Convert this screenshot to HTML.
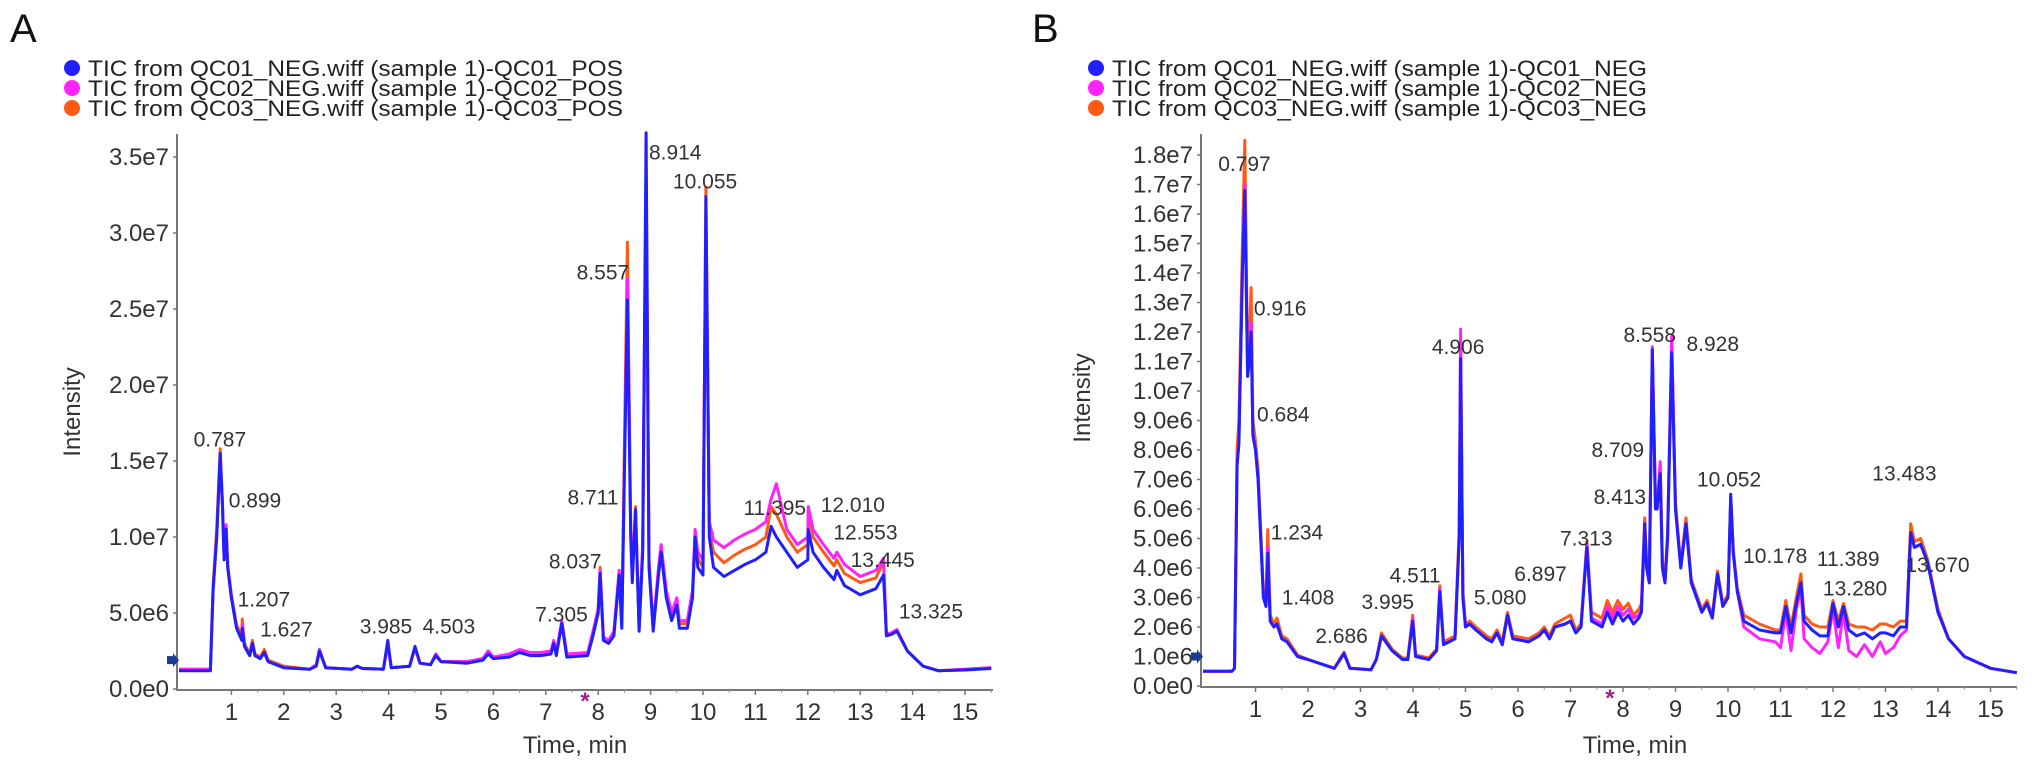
<!DOCTYPE html>
<html><head><meta charset="utf-8"><style>
body{margin:0;background:#fff}
svg{display:block;font-family:"Liberation Sans",Arial,sans-serif}
</style></head><body>
<svg id="chart" width="2032" height="762" viewBox="0 0 2032 762" xmlns="http://www.w3.org/2000/svg"></svg>
<script>
// ---------- Panel A data (time min, intensity in 1e6) ----------
const timesA = [0,0.6,0.65,0.72,0.787,0.83,0.86,0.899,0.93,1.0,1.1,1.2,1.207,1.25,1.35,1.4,1.45,1.55,1.627,1.7,2.0,2.5,2.62,2.68,2.8,3.3,3.4,3.5,3.9,3.985,4.05,4.4,4.503,4.6,4.8,4.9,5.0,5.5,5.8,5.9,6.0,6.3,6.5,6.7,6.9,7.1,7.15,7.2,7.305,7.4,7.8,7.9,8.0,8.037,8.1,8.2,8.3,8.4,8.45,8.557,8.62,8.65,8.711,8.78,8.85,8.914,8.97,9.05,9.15,9.2,9.3,9.4,9.5,9.55,9.7,9.8,9.85,9.9,10.0,10.055,10.12,10.2,10.4,10.6,10.8,11.0,11.2,11.3,11.4,11.6,11.8,12.0,12.01,12.1,12.3,12.5,12.553,12.7,13.0,13.3,13.445,13.5,13.6,13.7,13.9,14.2,14.5,15.0,15.5];
const blueA = [1.2,1.2,6.5,10,15.5,12,8.5,10.5,8,6,4,3.2,4,2.8,2.2,3,2.2,2,2.4,1.8,1.4,1.3,1.5,2.5,1.4,1.3,1.5,1.35,1.3,3.2,1.4,1.5,2.8,1.7,1.6,2.2,1.8,1.7,1.9,2.3,2.0,2.1,2.4,2.2,2.2,2.3,3.0,2.2,4.3,2.1,2.2,3.5,5,7.6,3.2,3,3.5,7.5,4,25.6,10,7,11.8,3.8,9,36.6,8,3.8,7.5,9,6,4.5,5.5,4,4,6,10,8,7.5,32.4,10,8,7.4,7.8,8.2,8.5,9,10.7,10,9,8,8.5,10.5,9,8,7.2,7.8,6.8,6.2,6.6,7.5,3.5,3.6,3.8,2.5,1.5,1.2,1.25,1.35];
const magentaA = [1.3,1.3,6.5,10,15.2,12,8.5,10.8,8,6,4,3.2,4.2,2.8,2.2,3,2.2,2,2.4,1.8,1.4,1.3,1.6,2.6,1.4,1.3,1.5,1.35,1.3,3.0,1.4,1.5,2.7,1.7,1.6,2.3,1.8,1.8,2.0,2.5,2.1,2.3,2.6,2.4,2.4,2.5,3.2,2.4,4.5,2.3,2.4,3.8,5.2,7.8,3.4,3.2,3.8,7.8,4.2,27,10.5,7.5,11.8,4,9.5,34,8.5,4,8,9.5,6.5,5,6,4.5,4.5,6.5,10.5,9,8.5,31,11,9.8,9.3,9.8,10.2,10.5,11,12.5,13.5,10.5,9.5,10,12,10.5,9.5,8.6,9,8.2,7.4,7.8,8.6,3.6,3.7,3.9,2.5,1.5,1.2,1.3,1.4];
const orangeA = [1.3,1.3,6.8,10.5,15.8,12.2,8.8,10.6,8.2,6.2,4.2,3.5,4.6,3.0,2.3,3.2,2.3,2.1,2.6,1.9,1.5,1.3,1.6,2.6,1.4,1.3,1.5,1.35,1.3,3.0,1.4,1.5,2.7,1.7,1.6,2.3,1.8,1.8,2.0,2.5,2.1,2.2,2.5,2.3,2.3,2.4,3.1,2.3,4.4,2.2,2.3,3.7,5.3,8.0,3.4,3.2,3.7,7.8,4.2,29.4,10.5,7.3,12.0,4,9.3,33,8.3,4,7.8,9.3,6.3,4.8,5.8,4.3,4.3,6.3,10.3,8.6,8,33,10.5,9,8.3,8.8,9.2,9.5,10,12,11.5,10,9,9.5,11.8,10,9,8.1,8.5,7.6,7.0,7.3,8.4,3.6,3.7,3.9,2.5,1.5,1.2,1.3,1.4];
const tickLabelsYA = ["0.0e0","5.0e6","1.0e7","1.5e7","2.0e7","2.5e7","3.0e7","3.5e7"];
const tickValuesYA = [0,5,10,15,20,25,30,35];
const peakLabelsA = ["0.787","0.899","1.207","1.627","3.985","4.503","7.305","8.037","8.711","8.557","8.914","10.055","11.395","12.010","12.553","13.445","13.325"];
const peakLabelTA = [0.78,1.45,1.62,2.05,3.95,5.15,7.3,7.56,7.9,8.09,9.47,10.04,11.37,12.86,13.1,13.43,14.35];
const peakLabelVA = [16.4,12.4,5.9,3.9,4.1,4.1,4.9,8.4,12.6,27.4,35.3,33.4,11.9,12.1,10.3,8.5,5.1];

// ---------- Panel B data ----------
const timesB = [0,0.55,0.6,0.65,0.684,0.75,0.797,0.85,0.88,0.916,0.95,1.0,1.05,1.15,1.2,1.234,1.28,1.35,1.408,1.5,1.6,1.8,2.0,2.5,2.686,2.8,3.2,3.3,3.4,3.6,3.8,3.9,3.995,4.05,4.3,4.45,4.511,4.58,4.8,4.88,4.906,4.95,5.0,5.08,5.2,5.4,5.5,5.6,5.7,5.8,5.9,6.2,6.4,6.5,6.6,6.7,6.897,7.0,7.1,7.2,7.313,7.4,7.6,7.7,7.8,7.9,8.0,8.1,8.2,8.3,8.35,8.413,8.45,8.5,8.558,8.62,8.65,8.709,8.75,8.8,8.85,8.928,9.0,9.1,9.2,9.3,9.5,9.6,9.7,9.8,9.9,10.0,10.052,10.1,10.178,10.3,10.6,10.9,11.0,11.1,11.2,11.3,11.389,11.45,11.6,11.75,11.9,12.0,12.1,12.2,12.3,12.45,12.6,12.75,12.9,13.0,13.15,13.28,13.4,13.48,13.55,13.67,13.8,14.0,14.2,14.5,15.0,15.5];
const blueB = [0.5,0.5,0.6,7.5,8.2,14,16.8,10.5,11,12,8.5,8,7,3,2.7,4.5,2.2,2,2.1,1.6,1.5,1.0,0.9,0.6,1.1,0.6,0.55,0.9,1.7,1.2,0.9,0.9,2.2,1.0,0.9,1.2,3.2,1.4,1.6,5,11.1,3,2.0,2.1,1.9,1.6,1.5,1.8,1.4,2.4,1.6,1.5,1.7,1.9,1.6,2.0,2.1,2.2,1.8,2.0,4.7,2.2,2.0,2.5,2.1,2.5,2.2,2.4,2.1,2.3,2.5,5.5,4,3.5,11.4,6,6,7.2,4,3.5,5,11.3,6,4,5.5,3.5,2.5,2.8,2.3,3.8,2.7,3,6.5,4.5,3.2,2.2,1.9,1.8,1.8,2.7,1.8,2.8,3.5,2.2,1.9,1.7,1.7,2.8,2.0,2.7,1.9,1.7,1.8,1.6,1.8,1.8,1.7,2.0,2.0,5.2,4.7,4.8,4.2,2.5,1.6,1.0,0.6,0.45];
const magentaB = [0.5,0.5,0.6,7.5,8.3,14.2,17.0,10.5,11,12.3,8.5,8,7,3,2.7,4.7,2.2,2,2.1,1.6,1.5,1.0,0.9,0.6,1.1,0.6,0.55,0.9,1.7,1.2,0.9,0.9,2.3,1.0,0.9,1.2,3.3,1.4,1.6,5,12.1,3,2.0,2.1,1.9,1.6,1.5,1.8,1.4,2.4,1.6,1.5,1.7,1.9,1.6,2.0,2.1,2.2,1.8,2.0,4.8,2.3,2.1,2.7,2.3,2.7,2.4,2.6,2.3,2.4,2.6,5.5,4,3.5,11.5,6,6,7.6,4,3.5,5,11.9,6,4,5.5,3.5,2.5,2.8,2.3,3.8,2.7,3,6.3,4.5,3.2,2.0,1.6,1.5,1.3,2.5,1.2,2.6,3.3,1.6,1.3,1.1,1.5,2.6,1.3,2.5,1.2,1.0,1.4,1.0,1.5,1.1,1.3,1.7,1.9,5.2,4.7,4.8,4.2,2.5,1.6,1.0,0.6,0.45];
const orangeB = [0.5,0.5,0.6,8.0,9.0,15,18.5,11,11.5,13.5,9,8.3,7.3,3.2,3.0,5.3,2.4,2.1,2.3,1.7,1.6,1.05,0.9,0.6,1.15,0.6,0.55,0.9,1.8,1.25,0.95,0.95,2.4,1.05,0.95,1.25,3.4,1.5,1.7,5.3,11.6,3.2,2.1,2.2,2.0,1.7,1.6,1.9,1.5,2.5,1.7,1.6,1.8,2.0,1.7,2.1,2.3,2.4,1.9,2.1,4.9,2.5,2.3,2.9,2.5,2.9,2.6,2.8,2.4,2.6,2.8,5.7,4.2,3.7,11.3,6.3,6.2,7.5,4.2,3.7,5.2,11.6,6.2,4.1,5.7,3.6,2.6,2.9,2.4,3.9,2.8,3.1,6.4,4.6,3.3,2.4,2.1,1.9,1.9,2.9,2.0,3.0,3.8,2.4,2.1,2.0,2.0,2.9,2.2,2.8,2.1,2.0,2.0,1.9,2.1,2.1,2.0,2.2,2.2,5.5,4.9,5.0,4.3,2.6,1.6,1.0,0.6,0.45];
const tickLabelsYB = ["0.0e0","1.0e6","2.0e6","3.0e6","4.0e6","5.0e6","6.0e6","7.0e6","8.0e6","9.0e6","1.0e7","1.1e7","1.2e7","1.3e7","1.4e7","1.5e7","1.6e7","1.7e7","1.8e7"];
const tickValuesYB = [0,1,2,3,4,5,6,7,8,9,10,11,12,13,14,15,16,17,18];
const peakLabelsB = ["0.797","0.916","0.684","1.234","1.408","2.686","3.995","4.511","4.906","5.080","6.897","7.313","8.709","8.413","8.558","8.928","10.052","10.178","11.389","13.280","13.483","13.670"];
const peakLabelTB = [0.79,1.47,1.53,1.79,2.0,2.64,3.52,4.04,4.86,5.66,6.43,7.3,7.9,7.94,8.51,9.71,10.02,10.9,12.29,12.42,13.36,13.99];
const peakLabelVB = [17.7,12.8,9.2,5.2,3.0,1.7,2.85,3.75,11.5,3.0,3.8,5.0,8.0,6.4,11.9,11.6,7.0,4.4,4.3,3.3,7.2,4.1];

const tickLabelsX = ["1","2","3","4","5","6","7","8","9","10","11","12","13","14","15"];
const tickValuesX = [1,2,3,4,5,6,7,8,9,10,11,12,13,14,15];
const legendA = ["TIC from QC01_NEG.wiff (sample 1)-QC01_POS","TIC from QC02_NEG.wiff (sample 1)-QC02_POS","TIC from QC03_NEG.wiff (sample 1)-QC03_POS"];
const legendB = ["TIC from QC01_NEG.wiff (sample 1)-QC01_NEG","TIC from QC02_NEG.wiff (sample 1)-QC02_NEG","TIC from QC03_NEG.wiff (sample 1)-QC03_NEG"];

const NS = "http://www.w3.org/2000/svg";
const svg = document.getElementById('chart');
const COL = {blue:"#2020ff", magenta:"#ff22ff", orange:"#ff5a14"};

function mk(tag, attrs, parent){
  const e = document.createElementNS(NS, tag);
  for (const k in attrs) e.setAttribute(k, attrs[k]);
  (parent||svg).appendChild(e);
  return e;
}

function panel(cfg){
  const g = mk('g', {});
  
  
  const xs = t => cfg.x0 + t * cfg.pxMin;
  const ys = v => cfg.y0 - v * cfg.pxUnit;

  const letter = mk('text', {x: cfg.letterX, y: 42, 'font-size': 40, fill: '#111'}, g);
  letter.textContent = cfg.letter;
  
  

  const lcol = [COL.blue, COL.magenta, COL.orange];
  cfg.legend.forEach((s, i) => {
    const lg = mk('g', {}, g);
    
    
    const cy = 68 + i * 20;
    mk('circle', {cx: cfg.legX, cy: cy, r: 8, fill: lcol[i]}, lg);
    const t = mk('text', {x: cfg.legX + 16, y: cy + 8, 'font-size': 22, fill: '#222', textLength: cfg.legW, lengthAdjust: 'spacingAndGlyphs'}, lg);
    t.textContent = s;
  });

  const ax = mk('path', {d: `M${cfg.x0 - 2} ${cfg.top} V${cfg.y0 + 1} H${cfg.right}`, stroke: '#777', 'stroke-width': 2, fill: 'none'}, g);
  
  

  cfg.yVals.forEach((v, i) => {
    const y = ys(v);
    mk('line', {x1: cfg.x0 - 6, x2: cfg.x0 - 2, y1: y, y2: y, stroke: '#777', 'stroke-width': 1.5}, g);
    const t = mk('text', {x: cfg.x0 - 10, y: y + 8, 'font-size': 24, fill: '#333', 'text-anchor': 'end'}, g);
    t.textContent = cfg.yLabels[i];
    
    
  });
  tickValuesX.forEach((v, i) => {
    const x = xs(v);
    mk('line', {x1: x, x2: x, y1: cfg.y0 + 1, y2: cfg.y0 + 6, stroke: '#777', 'stroke-width': 1.5}, g);
    const hx = xs(v + 0.5);
    mk('line', {x1: hx, x2: hx, y1: cfg.y0 + 1, y2: cfg.y0 + 4, stroke: '#999', 'stroke-width': 1}, g);
    const t = mk('text', {x: x, y: cfg.y0 + 31, 'font-size': 24, fill: '#333', 'text-anchor': 'middle'}, g);
    t.textContent = tickLabelsX[i];
    
    
  });
  const xt = mk('text', {x: cfg.xTitleX, y: 753, 'font-size': 24, fill: '#333', 'text-anchor': 'middle'}, g);
  xt.textContent = 'Time, min';
  
  
  const yt = mk('text', {x: 0, y: 0, 'font-size': 24, fill: '#333', 'text-anchor': 'middle', transform: `translate(${cfg.yTitleX},${cfg.yTitleY}) rotate(-90)`}, g);
  yt.textContent = 'Intensity';
  
  

  const series = [['orange', cfg.orange], ['magenta', cfg.magenta], ['blue', cfg.blue]];
  series.forEach(([c, vals]) => {
    const d = cfg.times.map((t, i) => (i ? 'L' : 'M') + xs(t).toFixed(1) + ' ' + ys(vals[i]).toFixed(1)).join(' ');
    const p = mk('path', {d: d, stroke: COL[c], 'stroke-width': 3, fill: 'none', 'stroke-linejoin': 'round'}, g);
    
    
  });

  cfg.peakLabels.forEach((s, i) => {
    const t = mk('text', {x: xs(cfg.peakT[i]), y: ys(cfg.peakV[i]) + 7, 'font-size': 21, fill: '#333', 'text-anchor': 'middle'}, g);
    t.textContent = s;
    
    
  });

  const ar = mk('path', {d: `M${cfg.x0 - 12} ${ys(cfg.arrowV) - 4} h6 v-3 l6 7 l-6 7 v-3 h-6 z`, fill: '#1a3a9a'}, g);
  
  
  const st = mk('text', {x: xs(7.75), y: cfg.y0 + 20, 'font-size': 24, fill: '#a02090', 'text-anchor': 'middle', 'font-weight': 'bold'}, g);
  st.textContent = '*';
  
  
}

panel({name: 'panel-a', letter: 'A', letterX: 10, legX: 72, legW: 535, legend: legendA,
  x0: 179, pxMin: 52.4, y0: 689, pxUnit: 15.2, top: 134, right: 993,
  yVals: tickValuesYA, yLabels: tickLabelsYA, xTitleX: 575, yTitleX: 80, yTitleY: 412,
  times: timesA, blue: blueA, magenta: magentaA, orange: orangeA,
  peakLabels: peakLabelsA, peakT: peakLabelTA, peakV: peakLabelVA, arrowV: 1.9});
panel({name: 'panel-b', letter: 'B', letterX: 1032, legX: 1096, legW: 535, legend: legendB,
  x0: 1203, pxMin: 52.5, y0: 686, pxUnit: 29.5, top: 134, right: 2017,
  yVals: tickValuesYB, yLabels: tickLabelsYB, xTitleX: 1635, yTitleX: 1090, yTitleY: 398,
  times: timesB, blue: blueB, magenta: magentaB, orange: orangeB,
  peakLabels: peakLabelsB, peakT: peakLabelTB, peakV: peakLabelVB, arrowV: 1.0});
</script>
</body></html>
